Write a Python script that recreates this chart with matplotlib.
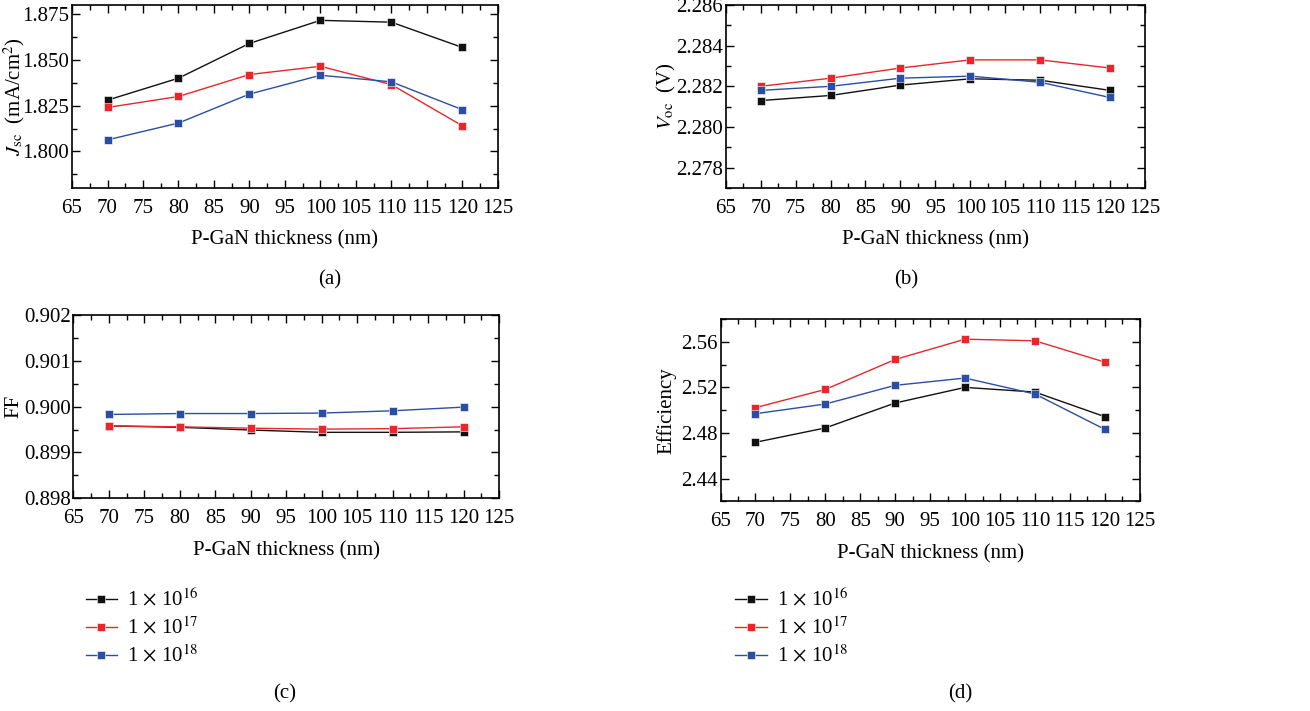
import matplotlib.pyplot as plt
from matplotlib.ticker import MultipleLocator, AutoMinorLocator

plt.rcParams['font.family'] = 'Liberation Serif'
plt.rcParams['mathtext.fontset'] = 'stix'

thickness = [70, 80, 90, 100, 110, 120]
doping_labels = [r'1 $\times$ 10$^{16}$', r'1 $\times$ 10$^{17}$', r'1 $\times$ 10$^{18}$']
colors = ['#111111', '#e8262b', '#2b4ea2']

jsc_16 = [1.828, 1.840, 1.859, 1.8716, 1.8706, 1.8568]
jsc_17 = [1.824, 1.830, 1.842, 1.8465, 1.8365, 1.814]
jsc_18 = [1.8063, 1.8155, 1.8313, 1.8416, 1.838, 1.8228]

voc_16 = [2.2813, 2.28155, 2.28206, 2.28237, 2.2823, 2.2818]
voc_17 = [2.2820, 2.2824, 2.2829, 2.2833, 2.2833, 2.2829]
voc_18 = [2.2818, 2.2820, 2.2824, 2.2825, 2.2822, 2.28145]

ff_16 = [0.89958, 0.89955, 0.89949, 0.89944, 0.89944, 0.89945]
ff_17 = [0.89958, 0.89956, 0.89953, 0.89951, 0.89952, 0.89956]
ff_18 = [0.89983, 0.89985, 0.89985, 0.89986, 0.89991, 0.89999]

eff_16 = [2.4718, 2.4844, 2.5063, 2.520, 2.5159, 2.4943]
eff_17 = [2.5022, 2.5182, 2.5445, 2.5623, 2.5609, 2.5422]
eff_18 = [2.4969, 2.5054, 2.5218, 2.5282, 2.5142, 2.4832]

fig = plt.figure(figsize=(13.1, 7.11), dpi=100)

panels = [
    # (rect, series, ylim, ystep, fmt, ylabel, ylabel x px, tag, tagpos)
    ([0.055, 0.7356, 0.325, 0.2574], [jsc_16, jsc_17, jsc_18], (1.78, 1.88), 0.025, '%.3f',
     r'$J_{\mathrm{sc}}$  (mA/cm$^2$)', 14, '(a)', (330, 280)),
    ([0.554, 0.7356, 0.320, 0.2574], [voc_16, voc_17, voc_18], (2.277, 2.286), 0.002, '%.3f',
     r'$V_{\mathrm{oc}}$  (V)', 666, '(b)', (906, 280)),
    ([0.056, 0.2991, 0.325, 0.2579], [ff_16, ff_17, ff_18], (0.898, 0.902), 0.001, '%.3f',
     'FF', 14, '(c)', (285, 694)),
    ([0.550, 0.2949, 0.320, 0.2564], [eff_16, eff_17, eff_18], (2.42, 2.58), 0.04, '%.2f',
     'Efficiency', 666, '(d)', (960, 694)),
]

for rect, series, ylim, ystep, fmt, ylabel, ylx, tag, tagpos in panels:
    ax = fig.add_axes(rect)
    for vals, c, lab in zip(series, colors, doping_labels):
        ax.plot(thickness, vals, color=c, lw=1.0, marker='s', ms=6,
                markeredgecolor='white', markeredgewidth=0.4, label=lab)
    ax.set_xlim(65, 125)
    ax.set_ylim(*ylim)
    ax.xaxis.set_major_locator(MultipleLocator(5))
    ax.xaxis.set_minor_locator(AutoMinorLocator(2))
    ax.yaxis.set_major_locator(MultipleLocator(ystep))
    ax.yaxis.set_minor_locator(AutoMinorLocator(2))
    ax.yaxis.set_major_formatter(plt.FormatStrFormatter(fmt))
    ax.tick_params(which='both', direction='in', top=True, right=True, labelsize=15)
    ax.tick_params(which='major', length=6, width=1.0)
    ax.tick_params(which='minor', length=3.5, width=1.0)
    ax.tick_params(axis='x', which='major', pad=8)
    ax.tick_params(axis='y', which='major', pad=2)
    for s in ax.spines.values():
        s.set_linewidth(1.2)
    ax.set_xlabel('P-GaN thickness (nm)', fontsize=15, labelpad=9)
    ax.set_ylabel(ylabel, fontsize=15, va='center')
    ax.yaxis.set_label_coords(ylx / 1310, rect[1] + rect[3] / 2,
                              transform=fig.transFigure)
    fig.text(tagpos[0] / 1310, 1 - tagpos[1] / 711, tag, fontsize=15,
             ha='center', va='center')
    if tag in ('(c)', '(d)'):
        lx = 0.059 if tag == '(c)' else 0.555
        ax.legend(loc='upper left', bbox_to_anchor=(lx, 1 - 580 / 711),
                  bbox_transform=fig.transFigure, frameon=False, fontsize=15,
                  handlelength=1.5, handletextpad=0.5, labelspacing=0.3,
                  borderaxespad=0)

fig.savefig('out.png', dpi=100)
